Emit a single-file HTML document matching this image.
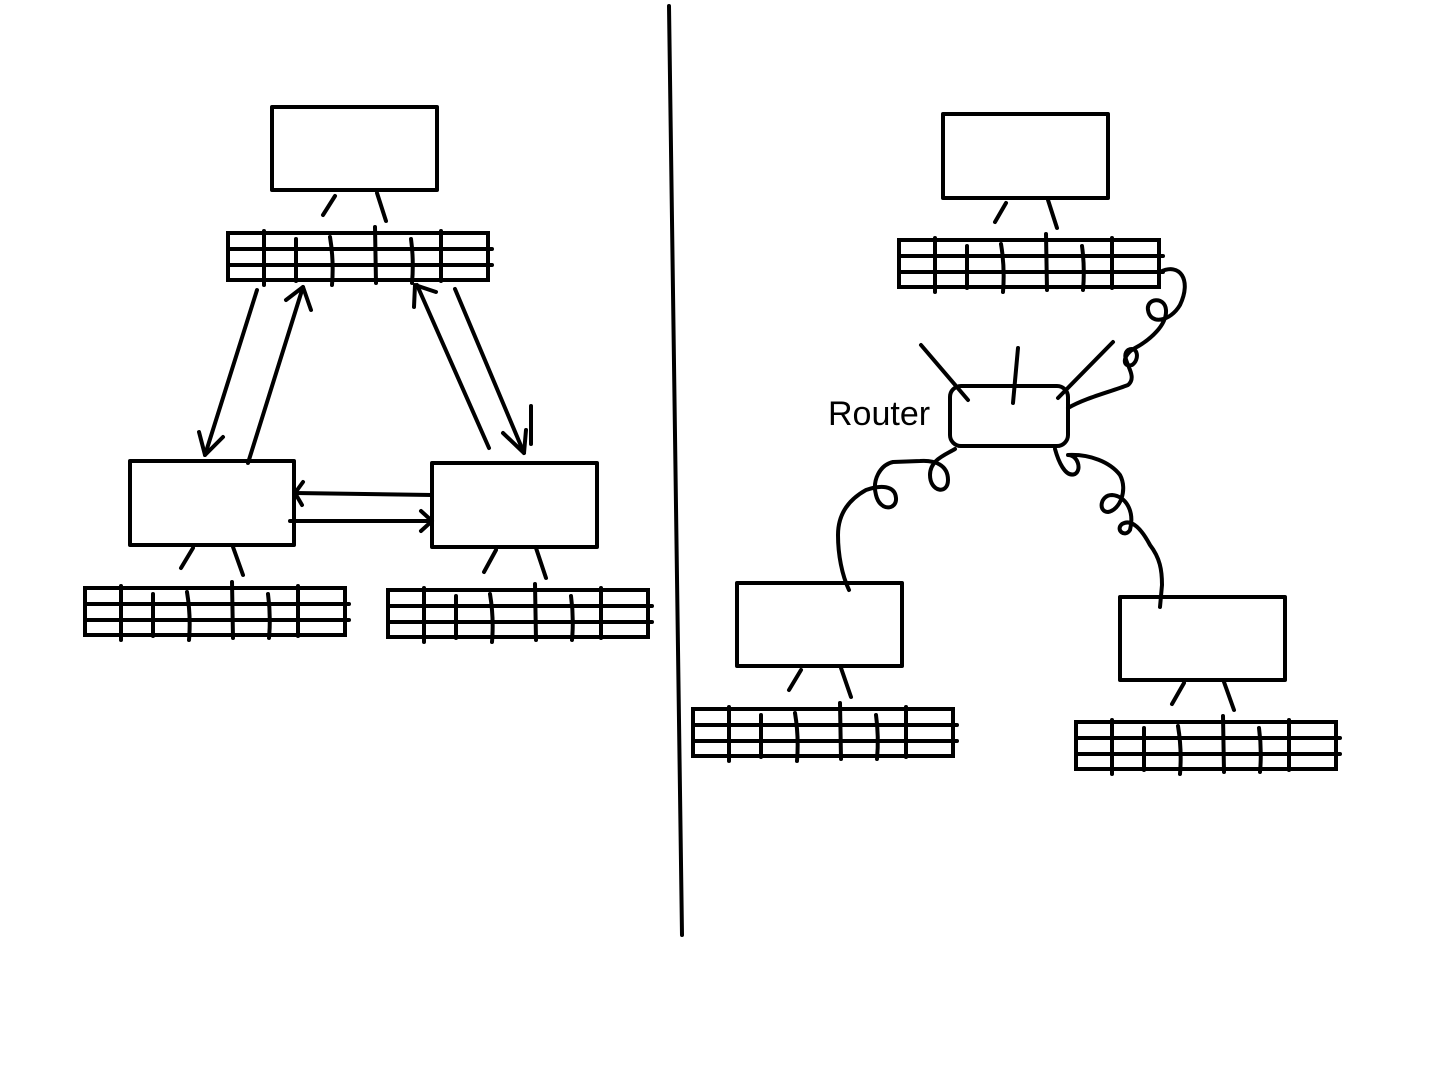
<!DOCTYPE html>
<html><head><style>html,body{margin:0;padding:0;background:#fff}svg{display:block}</style></head>
<body>
<svg width="1440" height="1080" viewBox="0 0 1440 1080" xmlns="http://www.w3.org/2000/svg">
<defs>
<g id="kb" fill="none" stroke="#000" stroke-width="4" stroke-linecap="round">
 <rect x="0" y="0" width="260" height="47"/>
 <line x1="0" y1="16" x2="264" y2="16"/>
 <line x1="0" y1="32" x2="264" y2="32"/>
 <line x1="36" y1="-2" x2="36" y2="52"/>
 <line x1="68" y1="6" x2="68" y2="48"/>
 <path d="M102 4 Q106 28 104 52"/>
 <line x1="147" y1="-6" x2="148" y2="50"/>
 <path d="M183 6 Q186 28 184 50"/>
 <line x1="213" y1="-2" x2="213" y2="48"/>
</g>
</defs>
<g fill="none" stroke="#000" stroke-width="4" stroke-linecap="round" stroke-linejoin="round">
 <rect x="272" y="107" width="165" height="83"/>
 <line x1="335" y1="196" x2="323" y2="215"/><line x1="377" y1="193" x2="386" y2="221"/>
 <rect x="130" y="461" width="164" height="84"/>
 <line x1="193" y1="548" x2="181" y2="568"/><line x1="233" y1="547" x2="243" y2="575"/>
 <rect x="432" y="463" width="165" height="84"/>
 <line x1="496" y1="550" x2="484" y2="572"/><line x1="536" y1="548" x2="546" y2="578"/>
 <line x1="257" y1="290" x2="205" y2="455"/><path d="M199 432 L205 455 L223 437"/>
 <line x1="248" y1="463" x2="303" y2="287"/><path d="M286 300 L303 287 L311 310"/>
 <line x1="489" y1="448" x2="417" y2="285"/><path d="M414 307 L415 285 L436 292"/>
 <line x1="455" y1="289" x2="524" y2="453"/><path d="M503 433 L524 453 L526 430"/>
 <line x1="531" y1="406" x2="531" y2="444"/>
 <line x1="432" y1="495" x2="295" y2="493"/><path d="M303 482 L295 493 L302 505"/>
 <line x1="290" y1="521" x2="432" y2="521"/><path d="M421 511 L432 521 L421 531"/>
 <line x1="669" y1="6" x2="682" y2="935"/>
 <rect x="943" y="114" width="165" height="84"/>
 <line x1="1006" y1="203" x2="995" y2="222"/><line x1="1048" y1="200" x2="1057" y2="228"/>
 <rect x="737" y="583" width="165" height="83"/>
 <line x1="801" y1="670" x2="789" y2="690"/><line x1="841" y1="668" x2="851" y2="697"/>
 <rect x="1120" y="597" width="165" height="83"/>
 <line x1="1184" y1="683" x2="1172" y2="704"/><line x1="1224" y1="682" x2="1234" y2="710"/>
 <rect x="950" y="386" width="118" height="60" rx="11"/>
 <line x1="921" y1="345" x2="968" y2="400"/>
 <line x1="1018" y1="348" x2="1013" y2="403"/>
 <line x1="1113" y1="342" x2="1058" y2="398"/>
 <path d="M1160 272 C1180 262 1192 280 1180 305 C1170 322 1150 325 1148 310 C1146 298 1165 296 1166 310 C1167 325 1150 340 1135 348 C1122 355 1122 368 1132 365 C1140 360 1138 345 1128 350 C1118 358 1140 375 1128 385 C1110 392 1085 398 1068 408"/>
 <path d="M955 449 C945 455 930 460 930 475 C930 492 948 495 948 480 C948 465 935 460 920 461 L893 462 C880 465 872 480 876 495 C880 512 897 510 896 498 C895 485 880 485 866 490 C848 500 838 515 838 535 C838 555 842 575 849 590"/>
 <path d="M1055 449 C1058 460 1065 478 1075 474 C1082 470 1078 455 1068 455 C1090 454 1110 462 1120 475 C1128 490 1120 510 1108 512 C1098 512 1100 495 1112 495 C1125 496 1135 510 1130 530 C1125 538 1115 530 1122 524 C1132 518 1142 530 1150 545 C1160 558 1162 570 1162 585 L1160 607"/>
</g>
<use href="#kb" x="228" y="233"/>
<use href="#kb" x="85" y="588"/>
<use href="#kb" x="388" y="590"/>
<use href="#kb" x="899" y="240"/>
<use href="#kb" x="693" y="709"/>
<use href="#kb" x="1076" y="722"/>
<text x="828" y="425" font-family="Liberation Sans, sans-serif" font-size="34" fill="#000">Router</text>
</svg>
</body></html>
